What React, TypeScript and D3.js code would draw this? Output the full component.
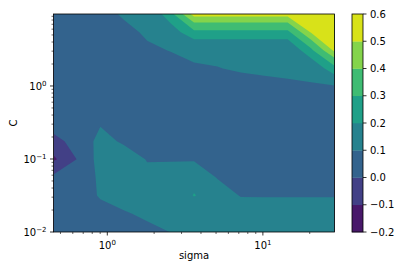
import React from 'react';
import * as d3 from 'd3';

// grid of the search (log spaced)
const sigma = [0.451, 0.638, 0.902, 1.276, 1.804, 2.551, 3.608, 5.103, 7.216, 10.21, 14.43, 20.41, 28.86];
const cValues = [0.01, 0.0178, 0.0315, 0.0557, 0.0989, 0.175, 0.311, 0.551, 0.977, 1.73, 3.07, 5.45, 9.68];

// score[i][j] -> C = cValues[i], sigma = sigma[j]  (bottom row first)
const score = [
  [0.05, 0.05, 0.06, 0.07, 0.084, 0.101, 0.12, 0.13, 0.15, 0.15, 0.15, 0.15, 0.15],
  [0.06, 0.06, 0.07, 0.093, 0.115, 0.12, 0.13, 0.14, 0.145, 0.14, 0.14, 0.14, 0.14],
  [0.07, 0.05, 0.11, 0.14, 0.12, 0.13, 0.205, 0.14, 0.095, 0.095, 0.095, 0.095, 0.095],
  [0.017, 0.05, 0.115, 0.13, 0.12, 0.124, 0.161, 0.095, 0.085, 0.085, 0.085, 0.085, 0.085],
  [-0.115, 0.002, 0.146, 0.143, 0.095, 0.095, 0.09, 0.085, 0.08, 0.08, 0.08, 0.08, 0.08],
  [-0.03, 0.04, 0.13, 0.085, 0.075, 0.075, 0.075, 0.075, 0.075, 0.075, 0.075, 0.075, 0.075],
  [0.056, 0.06, 0.09, 0.07, 0.07, 0.07, 0.07, 0.07, 0.07, 0.07, 0.07, 0.07, 0.07],
  [0.065, 0.065, 0.07, 0.07, 0.07, 0.07, 0.07, 0.07, 0.07, 0.07, 0.07, 0.07, 0.07],
  [0.07, 0.07, 0.072, 0.075, 0.078, 0.08, 0.082, 0.085, 0.089, 0.093, 0.094, 0.095, 0.091],
  [0.075, 0.075, 0.078, 0.08, 0.085, 0.09, 0.0963, 0.099, 0.104, 0.106, 0.11, 0.12, 0.27],
  [0.075, 0.078, 0.08, 0.085, 0.095, 0.101, 0.11, 0.11, 0.11, 0.11, 0.11, 0.28, 0.52],
  [0.075, 0.078, 0.08, 0.09, 0.106, 0.15, 0.277, 0.277, 0.277, 0.277, 0.277, 0.51, 0.575],
  [0.075, 0.078, 0.0857, 0.106, 0.106, 0.27, 0.545, 0.545, 0.545, 0.545, 0.545, 0.58, 0.59],
];

const levels = [-0.2, -0.1, 0, 0.1, 0.2, 0.3, 0.4, 0.5, 0.6];

const FONT = 'DejaVu Sans, sans-serif';

// d3.contours puts value i at i + 0.5, map back to data coords (linear between grid values)
const gridTo = (arr: number[], g: number) => {
  const t = Math.max(0, Math.min(arr.length - 1, g - 0.5));
  const i = Math.min(Math.floor(t), arr.length - 2);
  const f = t - i;
  return arr[i] + f * (arr[i + 1] - arr[i]);
};

const isMajor = (v: number) => Math.abs(Math.log10(v) - Math.round(Math.log10(v))) < 1e-9;
const minus = (s: string) => s.replace('-', '\u2212');

export default function App() {
  const W = 415, H = 277;
  const m = { left: 53.5, right: 334.5, top: 14, bottom: 232 };
  const bar = { x0: 352, x1: 363 };

  const x = d3.scaleLog().domain([sigma[0], sigma[sigma.length - 1]]).range([m.left, m.right]);
  const y = d3.scaleLog().domain([cValues[0], cValues[cValues.length - 1]]).range([m.bottom, m.top]);
  const yBar = d3.scaleLinear().domain([levels[0], levels[levels.length - 1]]).range([m.bottom, m.top]);
  const nBands = levels.length - 1;
  const color = (i: number) => d3.interpolateViridis((i + 0.5) / nBands);

  const contours = d3.contours()
    .size([sigma.length, cValues.length])
    .thresholds(levels.slice(0, -1))(score.flat());

  const toPath = (geom: any) => {
    let d = '';
    geom.coordinates.forEach((poly: number[][][]) => {
      poly.forEach((ring) => {
        ring.forEach((p, k) => {
          const px = x(gridTo(sigma, p[0]));
          const py = y(gridTo(cValues, p[1]));
          d += (k === 0 ? 'M' : 'L') + px.toFixed(2) + ',' + py.toFixed(2);
        });
        d += 'Z';
      });
    });
    return d;
  };

  const xt = x.ticks();
  const yt = y.ticks();

  return (
    <svg width={W} height={H} style={{ position: 'absolute', left: 0, top: 0, background: '#fff' }}
      fontFamily={FONT} fontSize={10}>
      <defs>
        <clipPath id="plot">
          <rect x={m.left} y={m.top} width={m.right - m.left} height={m.bottom - m.top} />
        </clipPath>
      </defs>
      <g clipPath="url(#plot)">
        {contours.map((c, i) => (
          <path key={i} d={toPath(c)} fill={color(levels.indexOf(c.value))} stroke="none" />
        ))}
      </g>
      <rect x={m.left} y={m.top} width={m.right - m.left} height={m.bottom - m.top}
        fill="none" stroke="#000" strokeWidth={0.8} />

      {/* x axis */}
      {xt.map((v, i) => {
        const major = isMajor(v);
        return (
          <line key={'xt' + i} x1={x(v)} x2={x(v)} y1={m.bottom} y2={m.bottom + (major ? 3.5 : 2)}
            stroke="#000" strokeWidth={major ? 0.8 : 0.6} />
        );
      })}
      {xt.filter(isMajor).map((v, i) => (
        <text key={'xl' + i} x={x(v)} y={249} textAnchor="middle">
          10<tspan dy={-4} fontSize={7}>{minus(String(Math.round(Math.log10(v))))}</tspan>
        </text>
      ))}
      <text x={(m.left + m.right) / 2} y={259} textAnchor="middle">sigma</text>

      {/* y axis */}
      {yt.map((v, i) => {
        const major = isMajor(v);
        return (
          <line key={'yt' + i} x1={m.left} x2={m.left - (major ? 3.5 : 2)} y1={y(v)} y2={y(v)}
            stroke="#000" strokeWidth={major ? 0.8 : 0.6} />
        );
      })}
      {yt.filter(isMajor).map((v, i) => (
        <text key={'yl' + i} x={46.5} y={y(v) + 4} textAnchor="end">
          10<tspan dy={-4} fontSize={7}>{minus(String(Math.round(Math.log10(v))))}</tspan>
        </text>
      ))}
      <text transform={`translate(17,${(m.top + m.bottom) / 2}) rotate(-90)`} textAnchor="middle">C</text>

      {/* colorbar */}
      {d3.range(nBands).map((i) => (
        <rect key={'cb' + i} x={bar.x0} width={bar.x1 - bar.x0}
          y={yBar(levels[i + 1])} height={yBar(levels[i]) - yBar(levels[i + 1]) + 0.3}
          fill={color(i)} />
      ))}
      <rect x={bar.x0} y={m.top} width={bar.x1 - bar.x0} height={m.bottom - m.top}
        fill="none" stroke="#000" strokeWidth={0.8} />
      {levels.map((v, i) => (
        <g key={'cl' + i}>
          <line x1={bar.x1} x2={bar.x1 + 3.5} y1={yBar(v)} y2={yBar(v)} stroke="#000" strokeWidth={0.8} />
          <text x={bar.x1 + 7} y={yBar(v) + 3.6}>{minus(d3.format('.1f')(v))}</text>
        </g>
      ))}
    </svg>
  );
}
